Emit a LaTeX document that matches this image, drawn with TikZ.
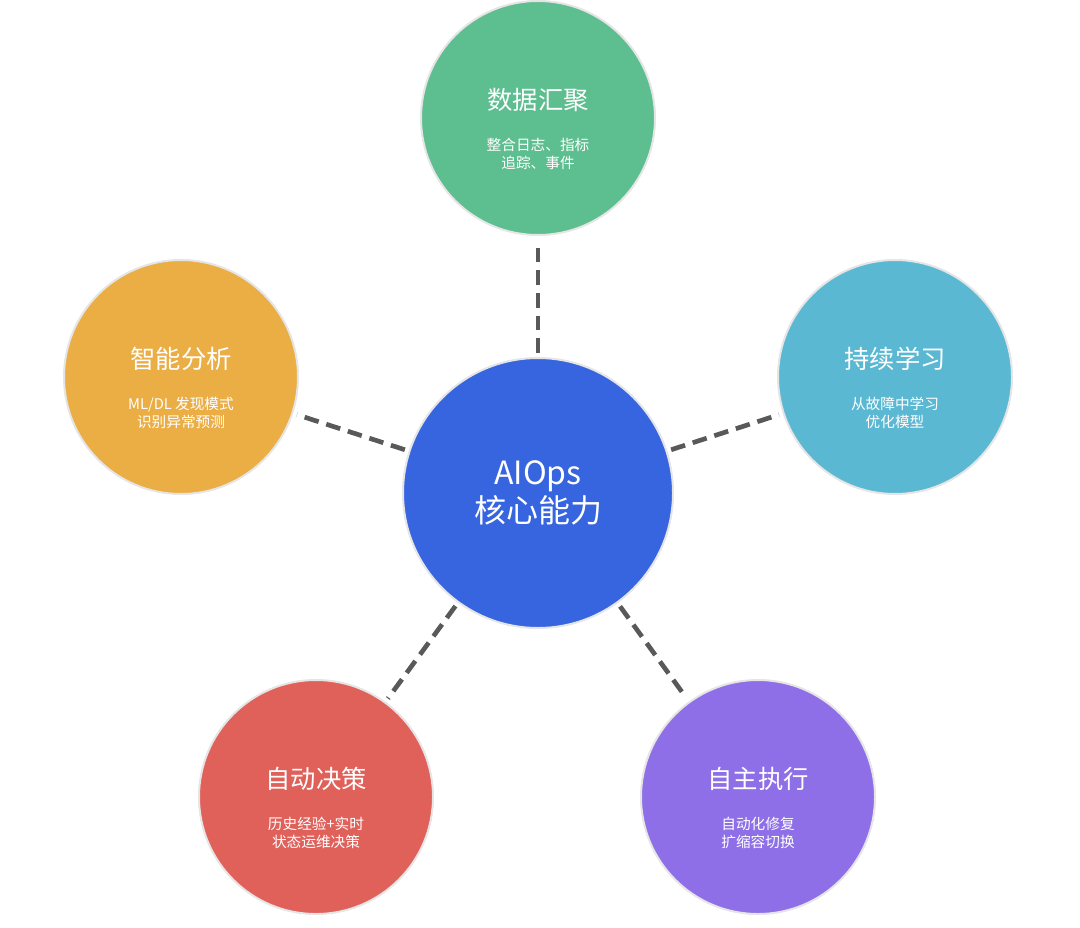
\documentclass[tikz,border=0pt]{standalone}
\usepackage{fontspec}
\setmainfont{Noto Sans CJK SC}
\begin{document}
\begin{tikzpicture}[x=0.75pt,y=-0.75pt,
  bub/.style={circle,minimum size=234*0.75pt,inner sep=0pt,draw=white!90!black,line width=1.5pt},
  conn/.style={draw=black!65,line width=3.5pt,dash pattern=on 11pt off 6pt,shorten <=3pt,shorten >=3pt},
  ttl/.style={text=white,font=\fontsize{19}{22}\selectfont},
  sub/.style={text=white,align=center,font=\fontsize{11}{13.5}\selectfont}]
\useasboundingbox (0,0) rectangle (1080,927);
\definecolor{cg}{HTML}{5DBE8F}\definecolor{cc}{HTML}{5BB8D3}\definecolor{co}{HTML}{EBAE45}
\definecolor{cr}{HTML}{E0605A}\definecolor{cp}{HTML}{8E6FE8}\definecolor{cb}{HTML}{3765E0}
\node[bub,fill=cb,minimum size=270*0.75pt] (c) at (538,493) {};
\node[bub,fill=cg] (g) at (538,118) {};
\node[bub,fill=cc] (cy) at (895,377) {};
\node[bub,fill=co] (o) at (181,377) {};
\node[bub,fill=cr] (r) at (316,797) {};
\node[bub,fill=cp] (p) at (758,797) {};
\foreach \n in {g,cy,o,r,p} \draw[conn] (c) -- (\n);
\node[text=white,align=center,font=\fontsize{24}{29}\selectfont] (ct) at (538,493) {AIOps\\核心能力};
\node[ttl] (gt) at (538,100) {数据汇聚};
\node[sub] (gs) at (538,154) {整合日志、指标\\追踪、事件};
\node[ttl] (cyt) at (895,359) {持续学习};
\node[sub] (cys) at (895,413) {从故障中学习\\优化模型};
\node[ttl] (ot) at (181,359) {智能分析};
\node[sub] (os) at (181,413) {ML/DL 发现模式\\识别异常预测};
\node[ttl] (rt) at (316,779) {自动决策};
\node[sub] (rs) at (316,833) {历史经验+实时\\状态运维决策};
\node[ttl] (pt) at (758,779) {自主执行};
\node[sub] (ps) at (758,833) {自动化修复\\扩缩容切换};
\end{tikzpicture}
\end{document}
